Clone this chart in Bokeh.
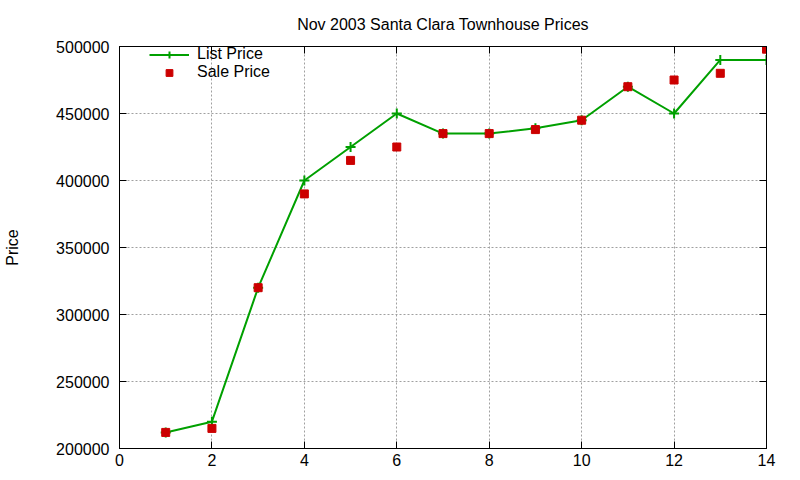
from bokeh.plotting import figure
from bokeh.models import Range1d, LinearAxis, SingleIntervalTicker, BasicTickFormatter, Legend, LegendItem
from bokeh.embed import file_html
from bokeh.resources import INLINE

months = [1, 2, 3, 4, 5, 6, 7, 8, 9, 10, 11, 12, 13, 14]
list_price = [212000, 220000, 320000, 400000, 425000, 450000, 435000, 435000, 439000, 445000, 470000, 450000, 490000, 490000]
sale_price = [212000, 215000, 320000, 390000, 415000, 425000, 435000, 435000, 438000, 445000, 470000, 475000, 480000, 498000]

FONT = "Liberation Sans"
GREEN = "#00a000"
RED = "#cc0000"

p = figure(width=784, height=472, output_backend="svg", toolbar_location=None,
           x_range=Range1d(0, 14), y_range=Range1d(200000, 500000),
           min_border_left=119, min_border_right=18, min_border_top=45, min_border_bottom=24)

p.title.text = "Nov 2003 Santa Clara Townhouse Prices"
p.title.align = "center"
p.title.text_font = FONT
p.title.text_font_size = "16px"
p.title.text_font_style = "normal"
p.title.text_color = "#000000"
p.title.standoff = 27

p.outline_line_color = "black"
p.outline_line_width = 1
p.outline_line_alpha = 1

p.xaxis.ticker = SingleIntervalTicker(interval=2)
p.yaxis.ticker = SingleIntervalTicker(interval=50000)
p.yaxis.formatter = BasicTickFormatter(use_scientific=False)
p.yaxis.axis_label = "Price"
for ax in (p.xaxis[0], p.yaxis[0]):
    ax.major_tick_in = 7
    ax.major_tick_out = 0
    ax.minor_tick_in = 0
    ax.minor_tick_out = 0
    ax.axis_line_color = "black"
    ax.major_tick_line_color = "black"
    ax.major_label_text_font = FONT
    ax.major_label_text_font_size = "16px"
    ax.major_label_text_color = "#000000"
p.xaxis.major_label_standoff = 5
p.yaxis.major_label_standoff = 10
p.yaxis.axis_label_text_font = FONT
p.yaxis.axis_label_text_font_size = "16px"
p.yaxis.axis_label_text_font_style = "normal"
p.yaxis.axis_label_text_color = "#000000"
p.yaxis.axis_label_standoff = 32

# mirrored ticks on top and right
for side, iv in (("above", 2), ("right", 50000)):
    m = LinearAxis(ticker=SingleIntervalTicker(interval=iv))
    m.major_tick_in = 7
    m.major_tick_out = 0
    m.minor_tick_in = 0
    m.minor_tick_out = 0
    m.axis_line_color = "black"
    m.major_tick_line_color = "black"
    m.major_label_text_font_size = "1px"
    m.major_label_text_alpha = 0
    m.major_label_standoff = 0
    p.add_layout(m, side)

p.grid.grid_line_color = "#a0a0a0"
p.grid.grid_line_dash = "2 2"
p.grid.grid_line_width = 1

r_line = p.line(months, list_price, line_color=GREEN, line_width=2)
r_cross = p.scatter(months, list_price, marker="cross", size=10, line_color=GREEN, line_width=2)
r_sq = p.scatter(months, sale_price, marker="square", size=8, fill_color=RED, line_color=RED)

legend = Legend(items=[LegendItem(label="List Price", renderers=[r_line, r_cross]),
                       LegendItem(label="Sale Price", renderers=[r_sq])],
                location=(30, 367))
legend.background_fill_alpha = 0
legend.border_line_alpha = 0
legend.label_text_font = FONT
legend.label_text_font_size = "16px"
legend.label_text_color = "#000000"
legend.label_height = 17
legend.glyph_height = 17
legend.glyph_width = 40
legend.spacing = 0
legend.margin = 0
legend.padding = 0
legend.label_standoff = 8
p.add_layout(legend)

open("out.html", "w").write(file_html(p, INLINE))
